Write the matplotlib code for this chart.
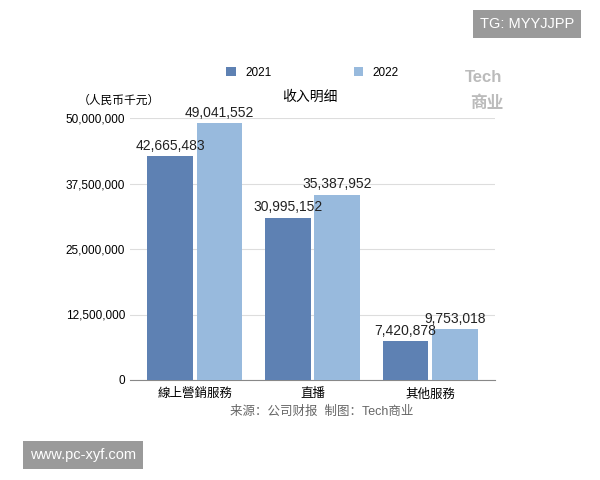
import matplotlib
matplotlib.use("Agg")
import matplotlib.pyplot as plt
import numpy as np

plt.rcParams['font.family'] = ['Liberation Sans', 'Noto Sans CJK SC', 'DejaVu Sans']

categories = ["線上營銷服務", "直播", "其他服務"]
v2021 = [42665483, 30995152, 7420878]
v2022 = [49041552, 35387952, 9753018]
yticks = [0, 12500000, 25000000, 37500000, 50000000]

fig = plt.figure(figsize=(6, 4.8), dpi=100)
ax = fig.add_axes([130/600, 1-380/480, 365/600, 262/480])
x = np.arange(len(categories))
w = 0.39
c1, c2 = "#5e81b3", "#98badd"
b1 = ax.bar(x - w/2 - 0.015, v2021, w, color=c1, label="2021", zorder=3)
b2 = ax.bar(x + w/2 + 0.015, v2022, w, color=c2, label="2022", zorder=3)
for bars, vals in ((b1, v2021), (b2, v2022)):
    for b, v in zip(bars, vals):
        ax.text(b.get_x() + b.get_width()/2, v + 600000, f"{v:,}", ha="center", va="bottom", fontsize=10, color="#222222")
ax.set_ylim(0, 50000000)
ax.set_xlim(-0.55, 2.55)
ax.set_yticks(yticks)
ax.set_yticklabels([f"{t:,}" for t in yticks], fontsize=8.5)
ax.set_xticks(x)
ax.set_xticklabels(categories, fontsize=9)
ax.grid(axis="y", color="#dddddd", lw=0.8, zorder=0)
for s in ("top", "right", "left"):
    ax.spines[s].set_visible(False)
ax.spines["bottom"].set_color("#888888")
ax.tick_params(axis="y", length=0)
ax.tick_params(axis="x", length=0, pad=6)
ax.legend(loc="lower center", bbox_to_anchor=(0.5, 1.11), ncol=2, frameon=False, fontsize=8.5, handlelength=0.8, handleheight=0.8, columnspacing=7)

fig.text(310/600, 1-97/480, "收入明细", ha="center", va="center", fontsize=10)
fig.text(78/600, 1-101/480, "（人民币千元）", ha="left", va="center", fontsize=8.5)
fig.text(230/600, 1-412/480, "来源：公司财报  制图：Tech商业", ha="left", va="center", fontsize=9, color="#666666")
fig.text(465/600, 1-78/480, "Tech", ha="left", va="center", fontsize=12, color="#bbbbbb", fontweight="bold")
fig.text(470/600, 1-103/480, "商业", ha="left", va="center", fontsize=12, color="#bbbbbb", fontweight="bold")
fig.text(527/600, 1-24/480, "TG: MYYJJPP", ha="center", va="center", fontsize=10.5, color="white",
         bbox=dict(boxstyle="square,pad=0.45", fc="#9a9a9a", ec="none"))
fig.text(83/600, 1-455/480, "www.pc-xyf.com", ha="center", va="center", fontsize=10.5, color="white",
         bbox=dict(boxstyle="square,pad=0.5", fc="#9a9a9a", ec="none"))
fig.savefig("out.png", dpi=100)
